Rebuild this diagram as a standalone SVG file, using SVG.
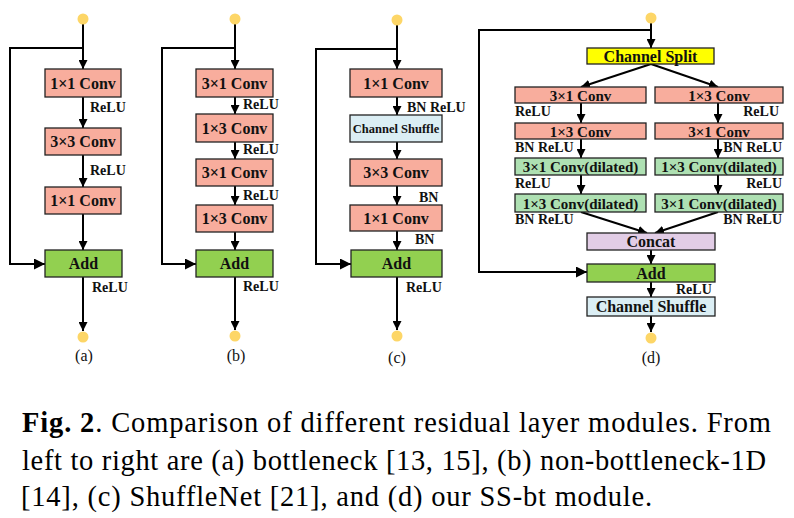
<svg xmlns="http://www.w3.org/2000/svg" width="794" height="518" viewBox="0 0 794 518">
<defs>
<marker id="ah" viewBox="0 0 10 10" refX="10" refY="5" markerWidth="9" markerHeight="9" markerUnits="userSpaceOnUse" orient="auto">
<path d="M0,0 L10,5 L0,10 z" fill="#000"/>
</marker>
<marker id="ahb" viewBox="0 0 10 10" refX="10" refY="5" markerWidth="11" markerHeight="11" markerUnits="userSpaceOnUse" orient="auto">
<path d="M0,0 L10,5 L0,10 z" fill="#000"/>
</marker>
<style>
.box{stroke:#222;stroke-width:1.3}
.conv{fill:#f8ad9d}
.add{fill:#92d050}
.dil{fill:#aee0b2}
.cat{fill:#e2cde6}
.shuf{fill:#dbeef4}
.split{fill:#ffff00}
.dot{fill:#fdd667}
.t{font-family:"Liberation Serif","Times New Roman",serif;font-weight:bold;fill:#111;text-anchor:middle}
.t16{font-size:16px}
.t15{font-size:15px}
.t12{font-size:12.5px}
.lab{font-family:"Liberation Serif","Times New Roman",serif;font-weight:bold;fill:#111;font-size:14px}
.cap{font-family:"Liberation Serif","Times New Roman",serif;font-size:16px;fill:#111;text-anchor:middle}
.c{fill:none;stroke:#000;stroke-width:2}
.a{marker-end:url(#ah)}
.ab{marker-end:url(#ahb)}
.capt{font-family:"Liberation Serif","Times New Roman",serif;font-size:28.5px;fill:#000}
</style>
</defs>

<!-- connectors -->
<g id="connectors">
<!-- (a) -->
<path class="c a" d="M83,24 V69"/>
<path class="c ab" d="M83,48 H10 V264 H45"/>
<path class="c a" d="M83,97 V128"/>
<path class="c a" d="M83,155 V187"/>
<path class="c a" d="M83,214 V250"/>
<path class="c a" d="M83,277 V331"/>
<!-- (b) -->
<path class="c a" d="M235,24 V69"/>
<path class="c ab" d="M235,48 H162 V264 H196"/>
<path class="c a" d="M235,97 V114"/>
<path class="c a" d="M235,142 V159"/>
<path class="c a" d="M235,186 V205"/>
<path class="c a" d="M235,232 V250"/>
<path class="c a" d="M235,277 V330"/>
<!-- (c) -->
<path class="c a" d="M397,25 V69"/>
<path class="c ab" d="M397,49 H316 V264 H351"/>
<path class="c a" d="M397,97 V115"/>
<path class="c a" d="M397,142 V159"/>
<path class="c a" d="M397,186 V205"/>
<path class="c a" d="M397,231 V250"/>
<path class="c a" d="M397,277 V330"/>
<!-- (d) -->
<path class="c a" d="M651,23 V48"/>
<path class="c ab" d="M651,30 H479 V272 H587"/>
<path class="c a" d="M651,64 L581,87"/>
<path class="c a" d="M651,64 L718,87"/>
<path class="c a" d="M581,103 V123"/>
<path class="c a" d="M718,103 V123"/>
<path class="c a" d="M581,139 V158"/>
<path class="c a" d="M718,139 V158"/>
<path class="c a" d="M581,175 V194"/>
<path class="c a" d="M718,175 V194"/>
<path class="c a" d="M581,212 L647,233"/>
<path class="c a" d="M718,212 L655,233"/>
<path class="c a" d="M651,250 V264"/>
<path class="c a" d="M651,282 V297"/>
<path class="c a" d="M651,316 V332"/>
</g>

<!-- (a) bottleneck -->
<g id="a-in"><circle class="dot" cx="83" cy="19" r="5.5"/></g>
<g id="a-conv1"><rect class="box conv" x="45" y="69" width="76" height="28"/><text class="t t16" x="83" y="89">1×1 Conv</text></g>
<text class="lab" x="90" y="112">ReLU</text>
<g id="a-conv2"><rect class="box conv" x="45" y="128" width="76" height="27"/><text class="t t16" x="83" y="147">3×3 Conv</text></g>
<text class="lab" x="90" y="175">ReLU</text>
<g id="a-conv3"><rect class="box conv" x="45" y="187" width="76" height="27"/><text class="t t16" x="83" y="206">1×1 Conv</text></g>
<g id="a-add"><rect class="box add" x="45" y="250" width="77" height="27"/><text class="t t16" x="83.5" y="269">Add</text></g>
<text class="lab" x="92" y="292">ReLU</text>
<g id="a-out"><circle class="dot" cx="83" cy="337" r="5.5"/></g>
<text class="cap" x="84" y="361">(a)</text>

<!-- (b) non-bottleneck-1D -->
<g id="b-in"><circle class="dot" cx="235" cy="19" r="5.5"/></g>
<g id="b-conv1"><rect class="box conv" x="196" y="69" width="77" height="28"/><text class="t t16" x="234.5" y="89">3×1 Conv</text></g>
<text class="lab" x="243" y="109">ReLU</text>
<g id="b-conv2"><rect class="box conv" x="196" y="114" width="77" height="28"/><text class="t t16" x="234.5" y="134">1×3 Conv</text></g>
<text class="lab" x="243" y="154">ReLU</text>
<g id="b-conv3"><rect class="box conv" x="196" y="159" width="77" height="27"/><text class="t t16" x="234.5" y="178">3×1 Conv</text></g>
<text class="lab" x="243" y="200">ReLU</text>
<g id="b-conv4"><rect class="box conv" x="196" y="205" width="77" height="27"/><text class="t t16" x="234.5" y="224">1×3 Conv</text></g>
<g id="b-add"><rect class="box add" x="196" y="250" width="77" height="27"/><text class="t t16" x="234.5" y="269">Add</text></g>
<text class="lab" x="243" y="291">ReLU</text>
<g id="b-out"><circle class="dot" cx="235" cy="336" r="5.5"/></g>
<text class="cap" x="236" y="361">(b)</text>

<!-- (c) ShuffleNet -->
<g id="c-in"><circle class="dot" cx="397" cy="20" r="5.5"/></g>
<g id="c-conv1"><rect class="box conv" x="350" y="69" width="92" height="28"/><text class="t t16" x="396" y="89">1×1 Conv</text></g>
<text class="lab" x="407" y="112">BN ReLU</text>
<g id="c-shuffle"><rect class="box shuf" x="350" y="115" width="92" height="27"/><text class="t t12" x="396" y="133">Channel Shuffle</text></g>
<g id="c-conv2"><rect class="box conv" x="350" y="159" width="92" height="27"/><text class="t t16" x="396" y="178">3×3 Conv</text></g>
<text class="lab" x="419" y="202">BN</text>
<g id="c-conv3"><rect class="box conv" x="350" y="205" width="92" height="26"/><text class="t t16" x="396" y="224">1×1 Conv</text></g>
<text class="lab" x="415" y="244">BN</text>
<g id="c-add"><rect class="box add" x="351" y="250" width="91" height="27"/><text class="t t16" x="396.5" y="269">Add</text></g>
<text class="lab" x="406" y="292">ReLU</text>
<g id="c-out"><circle class="dot" cx="397" cy="336" r="5.5"/></g>
<text class="cap" x="397" y="363">(c)</text>

<!-- (d) SS-bt -->
<g id="d-in"><circle class="dot" cx="651" cy="18" r="5.5"/></g>
<g id="d-split"><rect class="box split" x="587" y="48" width="127" height="16"/><text class="t t16" x="650.5" y="61.5">Channel Split</text></g>
<g id="d-l1"><rect class="box conv" x="515" y="87" width="131" height="16"/><text class="t t15" x="580.5" y="100.5">3×1 Conv</text></g>
<g id="d-r1"><rect class="box conv" x="655" y="87" width="128" height="16"/><text class="t t15" x="719" y="100.5">1×3 Conv</text></g>
<text class="lab" x="515" y="116">ReLU</text>
<text class="lab" x="779" y="116" text-anchor="end">ReLU</text>
<g id="d-l2"><rect class="box conv" x="515" y="123" width="131" height="16"/><text class="t t15" x="580.5" y="136.5">1×3 Conv</text></g>
<g id="d-r2"><rect class="box conv" x="655" y="123" width="128" height="16"/><text class="t t15" x="719" y="136.5">3×1 Conv</text></g>
<text class="lab" x="515" y="152">BN ReLU</text>
<text class="lab" x="782" y="152" text-anchor="end">BN ReLU</text>
<g id="d-l3"><rect class="box dil" x="515" y="158" width="131" height="17"/><text class="t t15" x="580.5" y="172">3×1 Conv(dilated)</text></g>
<g id="d-r3"><rect class="box dil" x="655" y="158" width="128" height="17"/><text class="t t15" x="719" y="172">1×3 Conv(dilated)</text></g>
<text class="lab" x="515" y="188">ReLU</text>
<text class="lab" x="782" y="188" text-anchor="end">ReLU</text>
<g id="d-l4"><rect class="box dil" x="515" y="194" width="131" height="18"/><text class="t t15" x="580.5" y="208.5">1×3 Conv(dilated)</text></g>
<g id="d-r4"><rect class="box dil" x="655" y="194" width="128" height="18"/><text class="t t15" x="719" y="208.5">3×1 Conv(dilated)</text></g>
<text class="lab" x="515" y="224">BN ReLU</text>
<text class="lab" x="782" y="224" text-anchor="end">BN ReLU</text>
<g id="d-concat"><rect class="box cat" x="587" y="233" width="128" height="17"/><text class="t t16" x="651" y="247">Concat</text></g>
<g id="d-add"><rect class="box add" x="587" y="264" width="128" height="18"/><text class="t t16" x="651" y="278.5">Add</text></g>
<text class="lab" x="676" y="294">ReLU</text>
<g id="d-shuffle"><rect class="box shuf" x="587" y="297" width="128" height="19"/><text class="t t16" x="651" y="312">Channel Shuffle</text></g>
<g id="d-out"><circle class="dot" cx="651" cy="338" r="5.5"/></g>
<text class="cap" x="651" y="363">(d)</text>

<!-- caption -->
<text class="capt" x="22" y="432" textLength="749" lengthAdjust="spacing"><tspan font-weight="bold">Fig. 2</tspan>. Comparison of different residual layer modules. From</text>
<text class="capt" x="22" y="470" textLength="744" lengthAdjust="spacing">left to right are (a) bottleneck [13, 15], (b) non-bottleneck-1D</text>
<text class="capt" x="21" y="506" textLength="631" lengthAdjust="spacing">[14], (c) ShuffleNet [21], and (d) our SS-bt module.</text>
</svg>
